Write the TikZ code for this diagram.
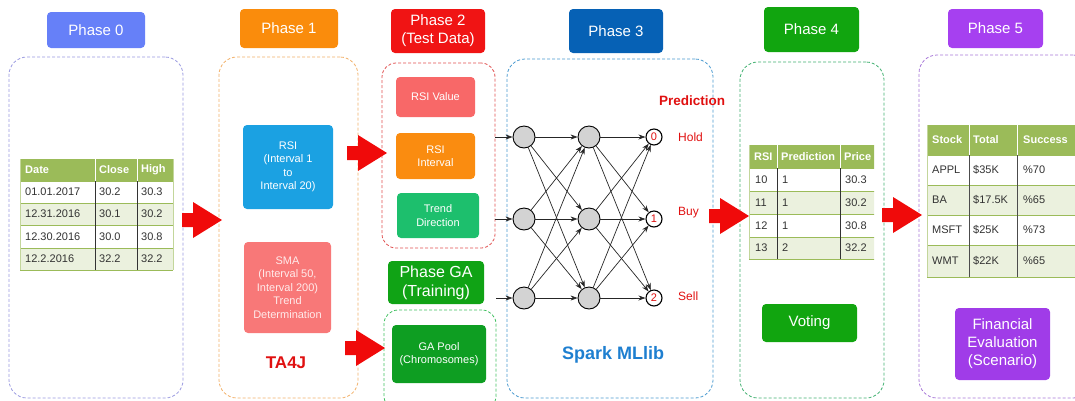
\documentclass[tikz,border=0pt]{standalone}
\usepackage{fontspec}
\setmainfont{Liberation Sans}
\usetikzlibrary{arrows.meta}
\definecolor{cph0}{HTML}{6680F8}
\definecolor{cph1}{HTML}{FA8C0C}
\definecolor{cph2}{HTML}{F01414}
\definecolor{cph3}{HTML}{0661B5}
\definecolor{cph4}{HTML}{11A50F}
\definecolor{cph5}{HTML}{A640F0}
\definecolor{crsi}{HTML}{1BA1E2}
\definecolor{csma}{HTML}{F87878}
\definecolor{crsiv}{HTML}{F86868}
\definecolor{crsii}{HTML}{FA8C10}
\definecolor{ctrend}{HTML}{1DBF6D}
\definecolor{cga}{HTML}{10A315}
\definecolor{cgapool}{HTML}{0E9E22}
\definecolor{cfin}{HTML}{A03CE8}
\definecolor{dc0}{HTML}{9A9AE0}
\definecolor{dc1}{HTML}{F2B068}
\definecolor{dc2}{HTML}{E05050}
\definecolor{dcga}{HTML}{40C060}
\definecolor{dc3}{HTML}{4A9AD0}
\definecolor{dc4}{HTML}{40B070}
\definecolor{dc5}{HTML}{A878D8}
\definecolor{hdrgreen}{HTML}{9BBB59}
\definecolor{rowgreen}{HTML}{EBF1DE}
\definecolor{tabtext}{HTML}{333333}
\definecolor{neurongray}{HTML}{D3D3D3}
\definecolor{arrowred}{HTML}{F00A0A}
\definecolor{sparkblue}{HTML}{1E7FD0}
\definecolor{predred}{HTML}{E01010}
\newcommand{\blockarrow}[3]{%
  \coordinate (#1) at (#2,#3);
  \fill[arrowred, shift={(#1)}] (-40,-7) -- (-29,-7) -- (-29,-18) -- (0,0) -- (-29,18) -- (-29,7) -- (-40,7) -- cycle;}
\begin{document}
\begin{tikzpicture}[x=1pt,y=-1pt,
  cont/.style={draw, dash pattern=on 3pt off 2pt, line width=0.8pt, rounded corners=18pt, inner sep=0pt, fill=none},
  phase/.style={rounded corners=4pt, text=white, font=\fontsize{15}{18}\selectfont, align=center, inner sep=0pt},
  ibox/.style={rounded corners=4pt, text=white, font=\fontsize{11}{13.5}\selectfont, align=center, inner sep=0pt},
  cell/.style={anchor=west, inner sep=0pt, font=\fontsize{11}{13}\selectfont, text=tabtext},
  hcell/.style={anchor=west, inner sep=0pt, text=white, font=\bfseries\fontsize{11}{13}\selectfont},
  neuron/.style={circle, draw=black, fill=neurongray, line width=0.9pt, minimum size=22pt, inner sep=0pt},
  outn/.style={circle, draw=black, fill=white, line width=1.1pt, minimum size=16pt, inner sep=0pt, text=predred, font=\fontsize{11}{12}\selectfont},
  nnarrow/.style={-{Stealth[length=7pt,width=5pt]}, draw=black!85, line width=0.7pt},
  lbl/.style={inner sep=0pt, anchor=west, text=predred, font=\fontsize{12}{14}\selectfont}
]
\useasboundingbox (0,0) rectangle (1075,400);
\clip (0,0) rectangle (1075,400);

% containers
\node[cont, draw=dc0, minimum width=174pt, minimum height=341pt] (c0) at (96,227.5) {};
\node[cont, draw=dc1, minimum width=139pt, minimum height=341pt] (c1) at (288.5,227.5) {};
\node[cont, draw=dc2, minimum width=113pt, minimum height=185pt, rounded corners=14pt] (c2) at (438.5,155.5) {};
\node[cont, draw=dcga, minimum width=112pt, minimum height=100pt, rounded corners=14pt] (cgabox) at (440,360) {};
\node[cont, draw=dc3, minimum width=206pt, minimum height=339pt] (c3) at (610,228.5) {};
\node[cont, draw=dc4, minimum width=144pt, minimum height=336pt] (c4) at (812,230) {};
\node[cont, draw=dc5, minimum width=172pt, minimum height=343pt] (c5) at (1005,226.5) {};

% phase labels
\node[phase, fill=cph0, minimum width=98pt, minimum height=36pt] (p0) at (96,30) {Phase 0};
\node[phase, fill=cph1, minimum width=98pt, minimum height=39pt] (p1) at (289,28.5) {Phase 1};
\node[phase, fill=cph2, minimum width=94pt, minimum height=44pt] (p2) at (438,31) {Phase 2\\(Test Data)};
\node[phase, fill=cph3, minimum width=94pt, minimum height=44pt] (p3) at (616,31) {Phase 3};
\node[phase, fill=cph4, minimum width=95pt, minimum height=45pt] (p4) at (811.5,29.5) {Phase 4};
\node[phase, fill=cph5, minimum width=95pt, minimum height=39pt] (p5) at (995.5,28.5) {Phase 5};
\node[phase, fill=cga, minimum width=96pt, minimum height=43pt, font=\fontsize{16}{19}\selectfont] (pga) at (436,282.5) {Phase GA\\(Training)};

% inner boxes
\node[ibox, fill=crsi, minimum width=90pt, minimum height=84pt] (rsi) at (288,167) {RSI\\(Interval 1\\to\\Interval 20)};
\node[ibox, fill=csma, minimum width=87pt, minimum height=91pt, text=white!92!red] (sma) at (287.5,287.5) {SMA\\(Interval 50,\\Interval 200)\\Trend\\Determination};
\node[ibox, fill=crsiv, minimum width=79pt, minimum height=40pt] (rsiv) at (435.5,97) {RSI Value};
\node[ibox, fill=crsii, minimum width=79pt, minimum height=46pt] (rsii) at (435.5,156) {RSI\\Interval};
\node[ibox, fill=ctrend, minimum width=82pt, minimum height=45pt] (trend) at (438,215.5) {Trend\\Direction};
\node[ibox, fill=cgapool, minimum width=94pt, minimum height=58pt] (gapool) at (439,354) {GA Pool\\(Chromosomes)};
\node[phase, fill=cph4, minimum width=95pt, minimum height=38pt] (voting) at (809.5,323) {Voting};
\node[phase, fill=cfin, minimum width=95pt, minimum height=72pt] (fin) at (1002.5,344) {Financial\\Evaluation\\(Scenario)};

% texts
\node[inner sep=0pt, text=predred, font=\bfseries\fontsize{17}{20}\selectfont] (ta4j) at (286,363) {TA4J};
\node[inner sep=0pt, text=sparkblue, font=\bfseries\fontsize{18}{20}\selectfont] (spark) at (613,355) {Spark MLlib};
\node[inner sep=0pt, text=predred, font=\bfseries\fontsize{13.5}{16}\selectfont] (pred) at (692,101) {Prediction};

% red block arrows (tip positions)
\blockarrow{a01}{222}{220}
\blockarrow{a12}{387}{153}
\blockarrow{a1ga}{385}{348}
\blockarrow{a34}{749}{216}
\blockarrow{a45}{922}{215}

% neural network
\foreach \i/\y in {1/137,2/219,3/298} {
  \node[neuron] (h1-\i) at (524,\y) {};
  \node[neuron] (h2-\i) at (589,\y) {};
}
\node[outn] (o-1) at (654,137) {0};
\node[outn] (o-2) at (654,219) {1};
\node[outn] (o-3) at (654,298) {2};
\foreach \i in {1,2,3} {
  \foreach \j in {1,2,3} {
    \draw[nnarrow] (h1-\i) -- (h2-\j);
    \draw[nnarrow] (h2-\i) -- (o-\j);
  }
}
\draw[nnarrow] (c2.east |- h1-1) -- (h1-1);
\draw[nnarrow] (c2.east |- h1-2) -- (h1-2);
\draw[nnarrow] (cgabox.east |- h1-3) -- (h1-3);
\node[lbl] (hold) at (678,137) {Hold};
\node[lbl] (buy) at (678,213) {Buy};
\node[lbl] (sell) at (678,296) {Sell};

% ---------- Phase 0 table ----------
\fill[hdrgreen] (20,159) rectangle (173,181);
\fill[white] (20,181) rectangle (173,203);
\fill[rowgreen] (20,203) rectangle (173,225);
\fill[white] (20,225) rectangle (173,248);
\fill[rowgreen] (20,248) rectangle (173,270);
\foreach \y in {181,203,225,248,270} \draw[hdrgreen, line width=1pt] (20,\y) -- (173,\y);
\draw[hdrgreen!60, line width=0.8pt] (20,159) -- (20,270) (173,159) -- (173,270);
\foreach \x in {95,137} {
  \draw[white, line width=1pt] (\x,159) -- (\x,181);
  \draw[black!80, line width=0.9pt] (\x,181) -- (\x,270);
}
\node[hcell] (ta-0-1) at (25,170) {Date};
\node[hcell] (ta-0-2) at (99,170) {Close};
\node[hcell] (ta-0-3) at (141,170) {High};
\foreach \r/\y/\a/\b/\c in {1/192/01.01.2017/30.2/30.3, 2/214/12.31.2016/30.1/30.2, 3/236.5/12.30.2016/30.0/30.8, 4/259/12.2.2016/32.2/32.2} {
  \node[cell] (ta-\r-1) at (25,\y) {\a};
  \node[cell] (ta-\r-2) at (99,\y) {\b};
  \node[cell] (ta-\r-3) at (141,\y) {\c};
}

% ---------- Phase 4 table ----------
\begin{scope}
\clip (749,145) rectangle (874,260);
\fill[hdrgreen] (749,145) rectangle (880,168);
\fill[white] (749,168) rectangle (880,191);
\fill[rowgreen] (749,191) rectangle (880,214);
\fill[white] (749,214) rectangle (880,237);
\fill[rowgreen] (749,237) rectangle (880,259);
\foreach \y in {168,191,214,237,259} \draw[hdrgreen, line width=1pt] (749,\y) -- (880,\y);
\draw[hdrgreen!60, line width=0.8pt] (749,145) -- (749,259);
\foreach \x in {777,840} {
  \draw[white, line width=1pt] (\x,145) -- (\x,168);
  \draw[black!80, line width=0.9pt] (\x,168) -- (\x,259);
}
\node[hcell] (tb-0-1) at (754,156.5) {RSI};
\node[hcell] (tb-0-2) at (781,156.5) {Prediction};
\node[hcell] (tb-0-3) at (844,156.5) {Price};
\foreach \r/\y/\a/\b/\c in {1/179.5/10/1/30.3, 2/202.5/11/1/30.2, 3/225.5/12/1/30.8, 4/248/13/2/32.2} {
  \node[cell] (tb-\r-1) at (755,\y) {\a};
  \node[cell] (tb-\r-2) at (782,\y) {\b};
  \node[cell] (tb-\r-3) at (845,\y) {\c};
}
\end{scope}

% ---------- Phase 5 table ----------
\fill[hdrgreen] (927,125) rectangle (1080,155);
\fill[white] (927,155) rectangle (1080,185);
\fill[rowgreen] (927,185) rectangle (1080,215);
\fill[white] (927,215) rectangle (1080,245);
\fill[rowgreen] (927,245) rectangle (1080,277);
\foreach \y in {155,185,215,245,277} \draw[hdrgreen, line width=1pt] (927,\y) -- (1080,\y);
\draw[hdrgreen!60, line width=0.8pt] (927,125) -- (927,277);
\foreach \x in {969,1017} {
  \draw[white, line width=1pt] (\x,125) -- (\x,155);
  \draw[black!70, line width=0.9pt] (\x,155) -- (\x,277);
}
\node[hcell] (tc-0-1) at (932,140) {Stock};
\node[hcell] (tc-0-2) at (973,140) {Total};
\node[hcell] (tc-0-3) at (1023,140) {Success};
\foreach \r/\y/\a/\b/\c in {1/170/APPL/\$35K/\%70, 2/200/BA/\$17.5K/\%65, 3/230/MSFT/\$25K/\%73, 4/261/WMT/\$22K/\%65} {
  \node[cell] (tc-\r-1) at (932,\y) {\a};
  \node[cell] (tc-\r-2) at (973,\y) {\b};
  \node[cell] (tc-\r-3) at (1023,\y) {\c};
}
\end{tikzpicture}
\end{document}
